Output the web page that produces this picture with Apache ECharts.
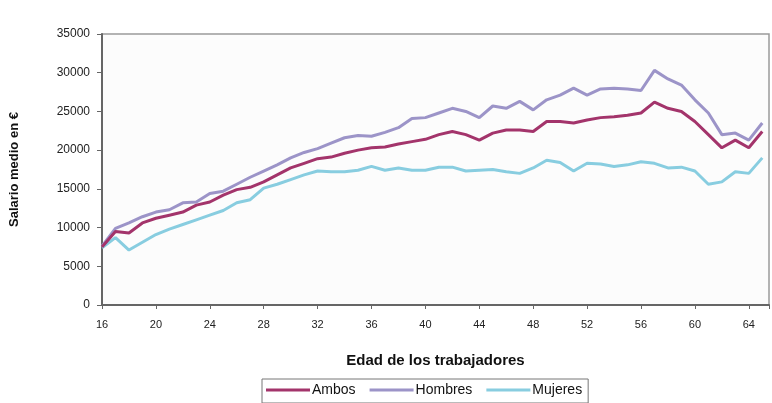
<!DOCTYPE html>
<html>
<head>
<meta charset="utf-8">
<script src="https://cdn.jsdelivr.net/npm/echarts@6/dist/echarts.min.js"></script>
<style>
html,body{margin:0;padding:0;background:#fff;}
#c{width:772px;height:403px;}
</style>
</head>
<body>
<div id="c"></div>
<script>
const ages = [16,17,18,19,20,21,22,23,24,25,26,27,28,29,30,31,32,33,34,35,36,37,38,39,40,41,42,43,44,45,46,47,48,49,50,51,52,53,54,55,56,57,58,59,60,61,62,63,64,65];
const ambos = [7500,9500,9300,10600,11200,11600,12000,12900,13300,14200,14900,15200,15900,16800,17700,18300,18900,19100,19600,20000,20300,20400,20800,21100,21400,22000,22400,22000,21300,22200,22600,22600,22400,23700,23700,23500,23900,24200,24300,24500,24800,26200,25400,25000,23700,22000,20300,21300,20300,22400];
const hombres = [7600,9900,10600,11400,12000,12300,13200,13300,14400,14700,15600,16500,17300,18100,19000,19700,20200,20900,21600,21900,21800,22300,22900,24100,24200,24800,25400,25000,24200,25700,25400,26300,25200,26500,27100,28000,27100,27900,28000,27900,27700,30300,29200,28400,26500,24800,22000,22200,21300,23500];
const mujeres = [7400,8700,7100,8100,9100,9800,10400,11000,11600,12200,13200,13600,15100,15600,16200,16800,17300,17200,17200,17400,17900,17400,17700,17400,17400,17800,17800,17300,17400,17500,17200,17000,17700,18700,18400,17300,18300,18200,17900,18100,18500,18300,17700,17800,17300,15600,15900,17200,17000,19000];
const yTicks = [0,5000,10000,15000,20000,25000,30000,35000];
const xTickStep = 4;
const seriesNames = ['Ambos','Hombres','Mujeres'];

const pair = arr => ages.map((a,i)=>[a,arr[i]]);
const colors = ['#a3346b','#9c94c8','#88cde0'];
const font = 'Liberation Sans, Arial, sans-serif';

const chart = echarts.init(document.getElementById('c'));
chart.setOption({
  animation:false,
  backgroundColor:'#ffffff',
  grid:{left:101,top:34,right:2,bottom:98,show:true,backgroundColor:'#fcfcfc',borderColor:'#9a9a9a',borderWidth:1.5},
  legend:{
    data:seriesNames,
    left:262, top:379,
    orient:'horizontal',
    itemWidth:44, itemHeight:3,
    itemGap:14,
    icon:'rect',
    borderColor:'#777', borderWidth:1,
    padding:[4,6,6,4],
    textStyle:{fontFamily:font,fontSize:14,color:'#111',padding:[0,0,0,-3]}
  },
  xAxis:{
    type:'value', min:ages[0], max:65.5, interval:xTickStep,
    name:'Edad de los trabajadores', nameLocation:'middle', nameGap:48,
    nameTextStyle:{fontFamily:font,fontSize:15,fontWeight:'bold',color:'#111'},
    axisLine:{show:true,lineStyle:{color:'#666',width:2}},
    axisTick:{show:true,length:4,lineStyle:{color:'#666'}},
    splitLine:{show:false},
    axisLabel:{fontFamily:font,fontSize:11,color:'#222',margin:14,
      formatter:v=> (v%xTickStep===0 ? String(v) : '')}
  },
  yAxis:{
    type:'value', min:yTicks[0], max:yTicks[yTicks.length-1], interval:5000,
    name:'Salario medio en €', nameLocation:'middle', nameGap:81, nameRotate:90,
    nameTextStyle:{fontFamily:font,fontSize:13,fontWeight:'bold',color:'#111'},
    axisLine:{show:true,lineStyle:{color:'#666',width:2}},
    axisTick:{show:true,length:5,lineStyle:{color:'#666'}},
    splitLine:{show:false},
    axisLabel:{fontFamily:font,fontSize:12,color:'#222',margin:12,formatter:v=>String(v)}
  },
  series:[
    {name:seriesNames[0],type:'line',data:pair(ambos),showSymbol:false,symbol:'none',lineStyle:{width:3,color:colors[0]},itemStyle:{color:colors[0]},z:4},
    {name:seriesNames[1],type:'line',data:pair(hombres),showSymbol:false,symbol:'none',lineStyle:{width:3,color:colors[1]},itemStyle:{color:colors[1]},z:3},
    {name:seriesNames[2],type:'line',data:pair(mujeres),showSymbol:false,symbol:'none',lineStyle:{width:3,color:colors[2]},itemStyle:{color:colors[2]},z:2}
  ]
});
</script>
</body>
</html>
